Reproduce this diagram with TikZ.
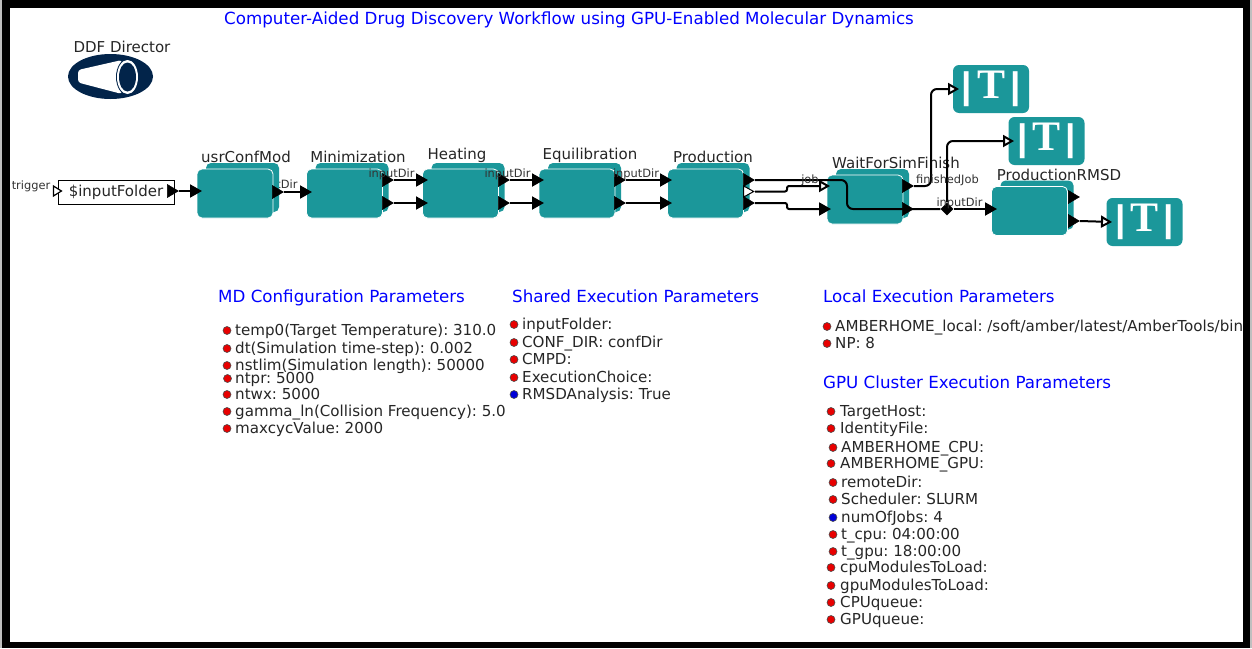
\documentclass[tikz,border=0pt]{standalone}
\usepackage{fontspec}
\setmainfont{DejaVu Sans}
\newfontfamily\tfont{Liberation Serif}
\newfontfamily\barfont{Liberation Sans}
\usepackage{tikz}
\usetikzlibrary{arrows.meta,shapes.geometric}
\frenchspacing
\definecolor{actorteal}{HTML}{1B979A}
\definecolor{dirnavy}{HTML}{02244A}
\definecolor{portred}{HTML}{E80000}
\definecolor{portblue}{HTML}{0000D8}
\tikzset{
  actorback/.style={fill=actorteal,rounded corners=5pt,minimum width=73pt,minimum height=49pt,inner sep=0pt},
  actorfront/.style={fill=actorteal,draw=white,line width=0.8pt,rounded corners=5pt,minimum width=76pt,minimum height=49pt,inner sep=0pt},
  tactor/.style={fill=actorteal,rounded corners=6pt,minimum width=76pt,minimum height=48pt,inner sep=0pt,text=white},
  actorname/.style={font=\fontsize{15}{15}\selectfont,text=black!85,inner sep=0pt},
  portname/.style={font=\fontsize{11.4}{11}\selectfont,text=black!80,inner sep=0pt},
  outport/.style={isosceles triangle,isosceles triangle stretches,fill=black,draw=black,line width=0.5pt,minimum height=11pt,minimum width=13pt,inner sep=0pt,anchor=apex},
  wire/.style={line width=2pt,rounded corners=2pt,-{Triangle[length=12pt,width=13pt]}},
  hollowwire/.style={line width=2pt,rounded corners=2pt,-{Triangle[length=11pt,width=12pt,fill=white]}},
  heading/.style={font=\fontsize{16.7}{17}\selectfont,text=blue,anchor=base west,inner sep=0pt},
  param/.style={font=\fontsize{15.1}{15}\selectfont,text=black!85,anchor=base west,inner sep=0pt},
  dotred/.style={circle,fill=portred,draw=black!70,line width=0.6pt,minimum size=8pt,inner sep=0pt},
  dotblue/.style={circle,fill=portblue,draw=black!70,line width=0.6pt,minimum size=8pt,inner sep=0pt},
}
\newcommand\tglyph{{\fontsize{37}{37}\barfont\bfseries|}\kern5pt{\fontsize{42}{42}\tfont\bfseries T}\kern5pt{\fontsize{37}{37}\barfont\bfseries|}}
\begin{document}
\begin{tikzpicture}[x=1pt,y=-1pt]
  \useasboundingbox (0,0) rectangle (1252,648);
  \fill[black!25] (0,0) rectangle (1252,648);
  \fill[black] (1.5,0) rectangle (1250,648);
  \fill[white] (9.5,7.5) rectangle (1243,642);

  \node[heading] (title) at (224,24) {Computer-Aided Drug Discovery Workflow using GPU-Enabled Molecular Dynamics};

  % director
  \node[ellipse,fill=dirnavy,minimum width=85pt,minimum height=45pt,inner sep=0pt] (director) at (110.5,76.5) {};
  \node[actorname] (directorname) at (122,47) {DDF Director};
  \fill[white,rounded corners=3pt] (78,70) -- (122,60) -- (122,94) -- (78,82.5) -- cycle;
  \fill[dirnavy] (127.5,77) ellipse (11.5pt and 18pt);
  \fill[white] (127.5,77) ellipse (10.5pt and 17pt);
  \fill[dirnavy] (127.5,77) ellipse (8.5pt and 14.5pt);

  % this one stays under its actor
  \node[portname] (usrdirname) at (274.5,185) {inputDir};

  \foreach \nm/\x/\y/\lx/\ly/\txt in {
    usr/235/193.5/246/157/usrConfMod,
    min/344.5/193.5/358/157/Minimization,
    heat/460.5/193.5/457/155/Heating,
    equil/577/193.5/590/155/Equilibration,
    prod/705.5/193.5/713/157/Production,
    wait/865/199.5/896/163/WaitForSimFinish,
    rmsd/1029.5/211/1059/175/ProductionRMSD}
  {
    \node[actorback] (\nm back) at (\x+7.5,\y-6) {};
    \node[actorfront] (\nm) at (\x,\y) {};
    \node[actorname] (\nm name) at (\lx,\ly) {\txt};
  }

  \foreach \nm/\x/\y in {tone/991/89,ttwo/1046.5/141,tthree/1144.5/222}
    \node[tactor] (\nm) at (\x,\y) {\tglyph};

  % source
  \node[draw=black,fill=white,line width=1pt,minimum width=116pt,minimum height=24pt,inner sep=0pt,font=\fontsize{15}{15}\selectfont,text=black!85] (source) at (116,192) {\$inputFolder};
  \node[outport,fill=white,line width=1.2pt,minimum height=8pt,minimum width=10pt] (trigger) at (63,191) {};
  \node[portname] (triggername) at (31,186) {trigger};

  \foreach \nm/\x/\y in {
    sourceout/179/191,usrout/284/192,minoutA/394/180,minoutB/394/203,
    heatoutA/510/180,heatoutB/510/203,equiloutA/626/180,equiloutB/626/203,
    prodoutA/755/180,prodoutC/755/203,waitoutA/914/186,waitoutB/914/209,
    rmsdoutA/1080/197,rmsdoutB/1080/221}
    \node[outport] (\nm) at (\x,\y) {};
  \node[outport,fill=white,line width=1pt,minimum height=10pt,minimum width=11pt] (prodoutB) at (755,191.5) {};

  \foreach \nm/\x/\y in {
    usrin/202/191,minin/312/192,heatinA/428/180,heatinB/428/203,
    equilinA/544/180,equilinB/544/203,prodinA/672/180,prodinB/672/203,
    waitinA/830/186,waitinB/831/209,rmsdin/997/209,
    toneIn/959/89,ttwoIn/1014/141,tthreeIn/1112/222}
    \coordinate (\nm) at (\x,\y);

  \node[diamond,fill=black,minimum width=13pt,minimum height=13pt,inner sep=0pt] (rel) at (947,209) {};

  \draw[wire] (sourceout.apex) -- (usrin);
  \draw[wire] (usrout.apex) -- (minin);
  \draw[wire] (minoutA.apex) -- (heatinA);
  \draw[wire] (minoutB.apex) -- (heatinB);
  \draw[wire] (heatoutA.apex) -- (equilinA);
  \draw[wire] (heatoutB.apex) -- (equilinB);
  \draw[wire] (equiloutA.apex) -- (prodinA);
  \draw[wire] (equiloutB.apex) -- (prodinB);
  \draw[hollowwire] (prodoutB.apex) -- ++(32,0) |- (waitinA);
  \draw[wire] (prodoutC.apex) -- ++(32,0) |- (waitinB);
  \draw[line width=2pt,rounded corners=6pt] (prodoutA.apex) -- ++(92,0) |- (rel);
  \draw[line width=2pt] (waitoutB.apex) -- (rel);
  \draw[wire] (rel) -- (rmsdin);
  \draw[hollowwire,rounded corners=6pt] (waitoutA.apex) -- ++(17,0) |- (toneIn);
  \draw[hollowwire,rounded corners=6pt] (rel) |- (ttwoIn);
  \draw[hollowwire] (rmsdoutB.apex) -- (tthreeIn);

  \node[portname] (mindirname) at (391.5,174) {inputDir};
  \node[portname] (heatdirname) at (507.5,174) {inputDir};
  \node[portname] (equildirname) at (636,174) {inputDir};
  \node[portname] (jobname) at (810,180) {job};
  \node[portname] (finishedname) at (947.5,180) {finishedJob};
  \node[portname] (rmsddirname) at (959.5,203) {inputDir};

  % parameter blocks
  \node[heading] (mdhead) at (218,302) {MD Configuration Parameters};
  \node[heading] (sharedhead) at (512,302) {Shared Execution Parameters};
  \node[heading] (localhead) at (823,302) {Local Execution Parameters};
  \node[heading] (gpuhead) at (823,388.5) {GPU Cluster Execution Parameters};

  \foreach \nm/\dx/\tx/\y/\kind/\txt in {
    ma/227/235/335/dotred/{temp0(Target Temperature): 310.0},
    mb/227/235/353/dotred/{dt(Simulation time-step): 0.002},
    mc/227/235/370/dotred/{nstlim(Simulation length): 50000},
    md/227.5/235/383/dotred/{ntpr: 5000},
    me/227/235/399/dotred/{ntwx: 5000},
    mf/227/235/416/dotred/{gamma\_ln(Collision Frequency): 5.0},
    mg/227/235/433/dotred/{maxcycValue: 2000},
    sa/514/522/329/dotred/{inputFolder:},
    sb/514/522/347/dotred/{CONF\_DIR: confDir},
    sc/514/522/364/dotred/{CMPD:},
    sd/514/522/382/dotred/{ExecutionChoice:},
    se/514/522/399/dotblue/{RMSDAnalysis: True},
    la/827/835/331/dotred/{AMBERHOME\_local: /soft/amber/latest/AmberTools/bin},
    lb/827/835/348/dotred/{NP: 8},
    ga/831/840/416/dotred/{TargetHost:},
    gb/831/840/433/dotred/{IdentityFile:},
    gc/833/841/452/dotred/{AMBERHOME\_CPU:},
    gd/831/840/468/dotred/{AMBERHOME\_GPU:},
    ge/833/841/487/dotred/{remoteDir:},
    gf/833/841/504/dotred/{Scheduler: SLURM},
    gg/833/841/522/dotblue/{numOfJobs: 4},
    gh/833/841/539/dotred/{t\_cpu: 04:00:00},
    gi/833/841/556/dotred/{t\_gpu: 18:00:00},
    gj/831/840/572/dotred/{cpuModulesToLoad:},
    gk/831/840/590/dotred/{gpuModulesToLoad:},
    gl/831/840/607/dotred/{CPUqueue:},
    gm/831/840/624/dotred/{GPUqueue:}}
  {
    \node[\kind] (\nm dot) at (\dx,\y-4.5) {};
    \node[param] (\nm) at (\tx,\y) {\txt};
  }
\end{tikzpicture}
\end{document}
